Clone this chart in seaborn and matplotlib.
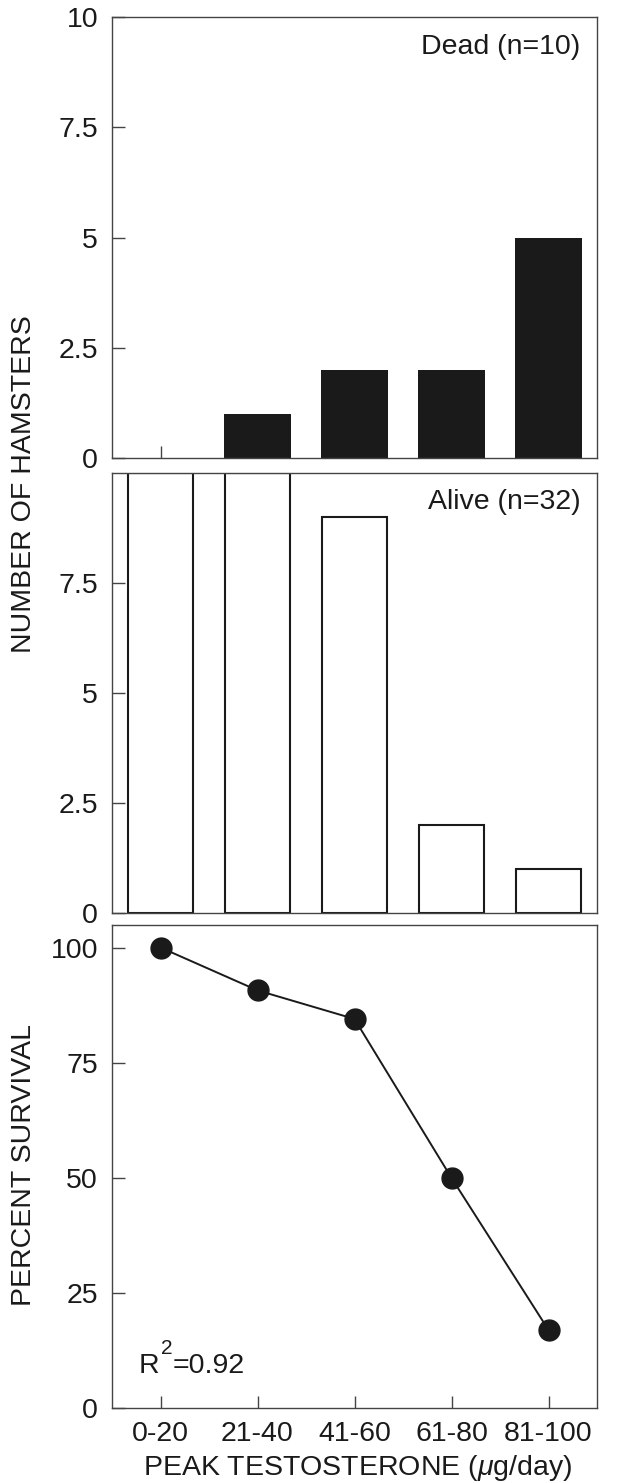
import matplotlib
matplotlib.use('Agg')
import matplotlib.pyplot as plt
import seaborn as sns
import pandas as pd

# ---- data ----
categories = ['0-20', '21-40', '41-60', '61-80', '81-100']
dead_counts = [0, 1, 2, 2, 5]
alive_counts = [10, 10, 9, 2, 1]
percent_survival = [100.0, 90.7, 84.5, 50.0, 17.0]

count_ticks = [0, 2.5, 5, 7.5, 10]
count_tick_labels = ['0', '2.5', '5', '7.5', '10']
alive_ticks = [0, 2.5, 5, 7.5]
alive_tick_labels = ['0', '2.5', '5', '7.5']
survival_ticks = [0, 25, 50, 75, 100]
survival_tick_labels = ['0', '25', '50', '75', '100']

df = pd.DataFrame({'range': categories, 'dead': dead_counts,
                   'alive': alive_counts, 'survival': percent_survival})

sns.set_theme(style='white')
plt.rcParams['font.family'] = ['Liberation Sans', 'DejaVu Sans']
plt.rcParams['mathtext.fontset'] = 'custom'
plt.rcParams['mathtext.rm'] = 'Liberation Sans'
plt.rcParams['mathtext.it'] = 'Liberation Sans:italic'
plt.rcParams['axes.axisbelow'] = True

INK = '#1a1a1a'
SPINE = '#444444'
FS = 20.5

W, H = 617, 1483
fig = plt.figure(figsize=(W / 100, H / 100), dpi=100)
fig.patch.set_facecolor('white')


def ax_at(top, bottom, left=112, right=597):
    return fig.add_axes([left / W, 1 - bottom / H, (right - left) / W, (bottom - top) / H])


ax1 = ax_at(17.3, 457.7)
ax2 = ax_at(473.3, 912.7)
ax3 = ax_at(924.5, 1408.3)

sns.barplot(data=df, x='range', y='dead', order=categories, color=INK,
            saturation=1, width=0.69, linewidth=0, ax=ax1)
sns.barplot(data=df, x='range', y='alive', order=categories, color='white',
            saturation=1, width=0.68, edgecolor=INK, linewidth=1.5, ax=ax2)
sns.pointplot(data=df, x='range', y='survival', order=categories, color=INK,
              markers='o', markersize=15, linewidth=1.4, errorbar=None, ax=ax3)

for ax in (ax1, ax2, ax3):
    ax.set_xlim(-0.5, 4.5)
    ax.set_xlabel('')
    ax.set_ylabel('')
    ax.set_facecolor('white')
    for s in ax.spines.values():
        s.set_visible(True)
        s.set_color(SPINE)
        s.set_linewidth(1.0)
    ax.tick_params(axis='both', direction='in', length=9, width=1.0,
                   color=SPINE, labelsize=FS, labelcolor=INK)
    ax.tick_params(axis='y', pad=10, left=True)
    ax.tick_params(axis='x', bottom=True)
    ax.set_xticks(range(len(categories)))

ax1.set_ylim(0, 10)
ax1.set_yticks(count_ticks)
ax1.set_yticklabels(count_tick_labels)
ax1.set_xticklabels([])

ax2.set_ylim(0, 10)
ax2.set_yticks(alive_ticks)
ax2.set_yticklabels(alive_tick_labels)
ax2.set_xticklabels([])

ax3.set_ylim(0, 105)
ax3.set_yticks(survival_ticks)
ax3.set_yticklabels(survival_tick_labels)
ax3.set_xticklabels(categories)
ax3.tick_params(axis='x', pad=9)

ax1.text(0.966, 0.933, 'Dead (n=10)', transform=ax1.transAxes,
         ha='right', va='center', fontsize=FS, color=INK)
ax2.text(0.966, 0.935, 'Alive (n=32)', transform=ax2.transAxes,
         ha='right', va='center', fontsize=FS, color=INK)

# R^2 annotation built from pieces so the superscript matches the reference size
R_X, R_Y = 0.054, 0.072
r_txt = ax3.text(R_X, R_Y, 'R', transform=ax3.transAxes,
                 ha='left', va='baseline', fontsize=FS, color=INK)
sup_txt = ax3.annotate('2', xy=(1, R_Y), xycoords=(r_txt, ax3.transAxes),
                       xytext=(1.5, 14), textcoords='offset points',
                       ha='left', va='baseline', fontsize=15, color=INK)
ax3.annotate('=0.92', xy=(1, R_Y), xycoords=(sup_txt, ax3.transAxes),
             xytext=(0.5, 0), textcoords='offset points', ha='left',
             va='baseline', fontsize=FS, color=INK)

fig.text(24 / W, 1 - 484 / H, 'NUMBER OF HAMSTERS', rotation=90,
         ha='center', va='center', fontsize=FS, color=INK)
fig.text(24 / W, 1 - 1165 / H, 'PERCENT SURVIVAL', rotation=90,
         ha='center', va='center', fontsize=FS, color=INK)
fig.text(358 / W, 1 - 1468 / H, r'PEAK TESTOSTERONE ($\mu$g/day)',
         ha='center', va='center', fontsize=FS, color=INK)

fig.savefig('out.png', dpi=100, facecolor='white')
